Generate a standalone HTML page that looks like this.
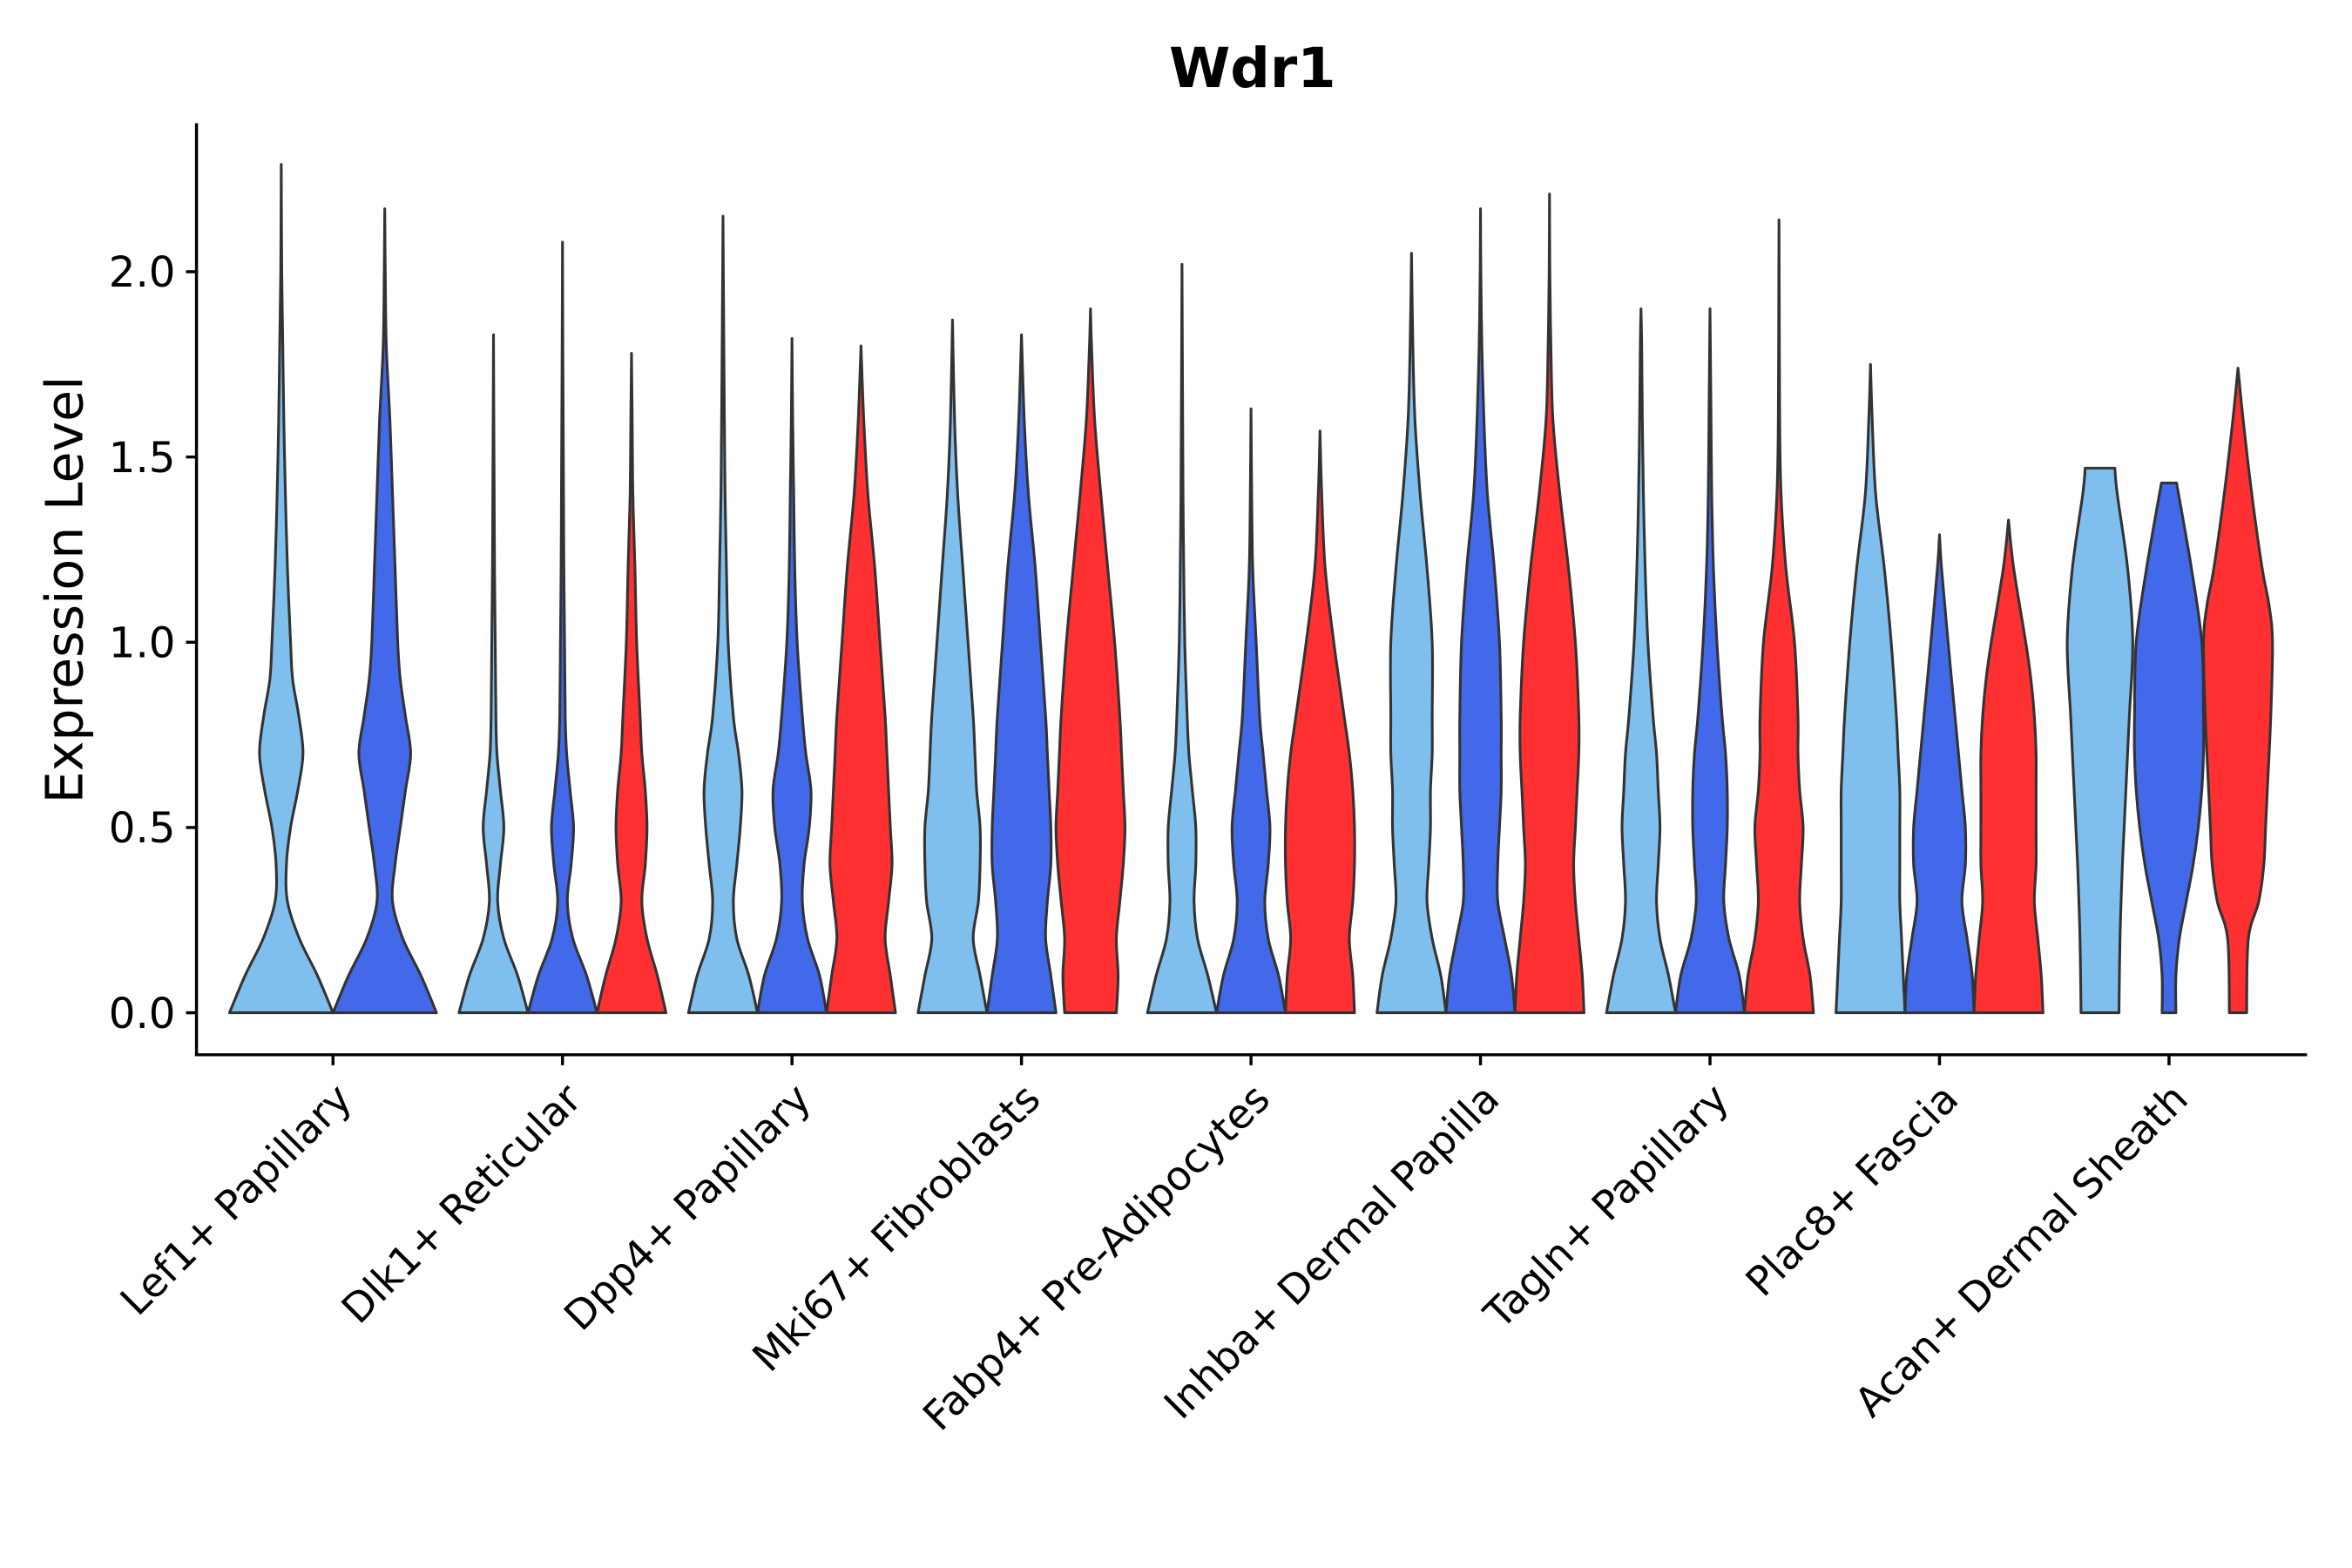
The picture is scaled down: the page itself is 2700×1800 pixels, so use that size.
<!DOCTYPE html>
<html><head><meta charset="utf-8"><style>
html,body{margin:0;padding:0;background:#fff;}
svg{display:block;}
text{font-family:"DejaVu Sans","Liberation Sans",sans-serif;fill:#000;}
</style></head><body>
<svg id="chart" width="2700" height="1800" viewBox="0 0 1568 1045" xmlns="http://www.w3.org/2000/svg">
<text x="835" y="58" text-anchor="middle" font-size="37" font-weight="bold">Wdr1</text>
<text transform="translate(55,393) rotate(-90)" text-anchor="middle" font-size="34">Expression Level</text>
<g id="marks"></g>
<g id="axes"></g>
</svg>
<script>
const categories = ["Lef1+ Papillary","Dlk1+ Reticular","Dpp4+ Papillary","Mki67+ Fibroblasts","Fabp4+ Pre-Adipocytes","Inhba+ Dermal Papilla","Tagln+ Papillary","Plac8+ Fascia","Acan+ Dermal Sheath"];
const yTicks = [0,0.5,1.0,1.5,2.0];
const yTickLabels = ["0.0","0.5","1.0","1.5","2.0"];
const seriesNames = ["light","blue","red"];
const seriesColors = {light:"#7fbfee",blue:"#4169e9",red:"#fe3031"};
// density profiles: [expression value, relative width]
const lef1Light = [[0,1],[0.1,0.7],[0.2,0.35],[0.3,0.12],[0.4,0.1],[0.5,0.18],[0.6,0.32],[0.7,0.42],[0.8,0.34],[0.9,0.22],[1.0,0.18],[1.2,0.12],[1.4,0.08],[1.6,0.05],[1.8,0.03],[2.0,0.01],[2.29,0]];
const lef1Blue = [[0,1],[0.1,0.7],[0.2,0.35],[0.3,0.15],[0.4,0.2],[0.5,0.3],[0.6,0.4],[0.7,0.5],[0.8,0.4],[0.9,0.3],[1.0,0.25],[1.2,0.2],[1.4,0.15],[1.6,0.1],[1.8,0.03],[2.0,0.01],[2.17,0]];
const dlk1Light = [[0,1],[0.1,0.7],[0.2,0.3],[0.3,0.12],[0.4,0.2],[0.5,0.3],[0.6,0.2],[0.7,0.1],[0.8,0.07],[1.0,0.05],[1.2,0.03],[1.4,0.02],[1.6,0.01],[1.83,0]];
const dlk1Blue = [[0,1],[0.1,0.7],[0.2,0.3],[0.3,0.14],[0.4,0.25],[0.5,0.32],[0.6,0.22],[0.7,0.12],[0.8,0.08],[1.0,0.06],[1.2,0.04],[1.4,0.03],[1.6,0.02],[1.8,0.01],[2.08,0]];
const dlk1Red = [[0,1],[0.1,0.75],[0.2,0.45],[0.3,0.3],[0.4,0.4],[0.5,0.45],[0.6,0.4],[0.7,0.3],[0.8,0.25],[1.0,0.15],[1.2,0.1],[1.4,0.04],[1.6,0.02],[1.78,0]];
const dpp4Light = [[0,1],[0.1,0.75],[0.2,0.4],[0.3,0.3],[0.4,0.4],[0.5,0.5],[0.6,0.55],[0.7,0.45],[0.8,0.3],[1.0,0.15],[1.2,0.1],[1.4,0.06],[1.6,0.04],[2.0,0.01],[2.15,0]];
const dpp4Blue = [[0,1],[0.1,0.8],[0.2,0.45],[0.3,0.3],[0.4,0.35],[0.5,0.5],[0.6,0.55],[0.7,0.4],[0.8,0.3],[1.0,0.15],[1.2,0.08],[1.4,0.05],[1.6,0.02],[1.82,0]];
const dpp4Red = [[0,1],[0.1,0.85],[0.2,0.7],[0.3,0.8],[0.4,0.9],[0.5,0.85],[0.6,0.8],[0.7,0.75],[0.8,0.7],[1.0,0.55],[1.2,0.4],[1.4,0.2],[1.6,0.08],[1.8,0]];
const mki67Light = [[0,1],[0.1,0.8],[0.2,0.6],[0.3,0.75],[0.4,0.8],[0.5,0.8],[0.6,0.7],[0.7,0.65],[0.8,0.6],[1.0,0.45],[1.2,0.3],[1.4,0.15],[1.6,0.06],[1.87,0]];
const mki67Blue = [[0,1],[0.1,0.85],[0.2,0.7],[0.3,0.75],[0.4,0.85],[0.5,0.85],[0.6,0.8],[0.7,0.75],[0.8,0.7],[1.0,0.55],[1.2,0.4],[1.4,0.2],[1.6,0.08],[1.83,0]];
const mki67Red = [[0,0.75],[0.1,0.8],[0.2,0.75],[0.3,0.85],[0.4,0.95],[0.5,1],[0.6,0.95],[0.7,0.9],[0.8,0.85],[1.0,0.7],[1.2,0.5],[1.4,0.3],[1.6,0.12],[1.8,0.03],[1.9,0]];
const fabp4Light = [[0,1],[0.1,0.75],[0.2,0.45],[0.3,0.35],[0.4,0.4],[0.5,0.4],[0.6,0.3],[0.7,0.2],[0.8,0.15],[1.0,0.08],[1.2,0.05],[1.4,0.03],[1.6,0.02],[1.8,0.01],[2.02,0]];
const fabp4Blue = [[0,1],[0.1,0.8],[0.2,0.5],[0.3,0.4],[0.4,0.5],[0.5,0.55],[0.6,0.45],[0.7,0.35],[0.8,0.25],[1.0,0.15],[1.2,0.05],[1.4,0.02],[1.63,0]];
const fabp4Red = [[0,1],[0.1,0.95],[0.2,0.85],[0.3,0.95],[0.4,1],[0.5,1],[0.6,0.95],[0.7,0.85],[0.8,0.7],[1.0,0.4],[1.2,0.15],[1.4,0.05],[1.57,0]];
const inhbaLight = [[0,1],[0.1,0.85],[0.2,0.6],[0.3,0.45],[0.4,0.5],[0.5,0.55],[0.6,0.55],[0.7,0.6],[0.8,0.6],[1.0,0.6],[1.2,0.45],[1.4,0.25],[1.6,0.1],[1.8,0.04],[2.05,0]];
const inhbaBlue = [[0,1],[0.1,0.9],[0.2,0.7],[0.3,0.5],[0.4,0.5],[0.5,0.55],[0.6,0.6],[0.7,0.6],[0.8,0.6],[1.0,0.55],[1.2,0.4],[1.4,0.2],[1.6,0.1],[1.8,0.04],[2.0,0.01],[2.17,0]];
const inhbaRed = [[0,1],[0.1,0.95],[0.2,0.85],[0.3,0.75],[0.4,0.7],[0.5,0.75],[0.6,0.8],[0.7,0.85],[0.8,0.85],[1.0,0.75],[1.2,0.55],[1.4,0.3],[1.6,0.1],[1.8,0.04],[2.0,0.01],[2.21,0]];
const taglnLight = [[0,1],[0.1,0.8],[0.2,0.55],[0.3,0.45],[0.4,0.5],[0.5,0.55],[0.6,0.5],[0.7,0.45],[0.8,0.35],[1.0,0.2],[1.2,0.12],[1.4,0.07],[1.6,0.04],[1.8,0.02],[1.9,0]];
const taglnBlue = [[0,1],[0.1,0.85],[0.2,0.55],[0.3,0.4],[0.4,0.45],[0.5,0.5],[0.6,0.5],[0.7,0.45],[0.8,0.35],[1.0,0.2],[1.2,0.1],[1.4,0.05],[1.6,0.03],[1.8,0.01],[1.9,0]];
const taglnRed = [[0,1],[0.1,0.9],[0.2,0.7],[0.3,0.6],[0.4,0.65],[0.5,0.7],[0.6,0.6],[0.7,0.55],[0.8,0.55],[1.0,0.45],[1.2,0.2],[1.4,0.06],[1.6,0.02],[2.0,0.005],[2.14,0]];
const plac8Light = [[0,1],[0.1,0.95],[0.2,0.9],[0.3,0.85],[0.4,0.85],[0.5,0.85],[0.6,0.85],[0.7,0.8],[0.8,0.75],[1.0,0.6],[1.2,0.4],[1.4,0.15],[1.6,0.05],[1.75,0]];
const plac8Blue = [[0,1],[0.1,0.95],[0.2,0.8],[0.3,0.65],[0.4,0.75],[0.5,0.75],[0.6,0.65],[0.7,0.55],[0.8,0.45],[1.0,0.25],[1.2,0.06],[1.29,0]];
const plac8Red = [[0,1],[0.1,0.95],[0.2,0.85],[0.3,0.75],[0.4,0.8],[0.5,0.8],[0.6,0.8],[0.7,0.8],[0.8,0.75],[0.9,0.65],[1.0,0.5],[1.2,0.15],[1.33,0]];
const acanLight = [[0,0.55],[0.2,0.58],[0.4,0.65],[0.6,0.75],[0.8,0.85],[1.0,0.95],[1.2,0.8],[1.4,0.5],[1.47,0.43]];
const acanBlue = [[0,0.2],[0.1,0.2],[0.2,0.3],[0.3,0.5],[0.4,0.7],[0.5,0.85],[0.6,0.95],[0.7,1],[0.8,1],[1.0,0.95],[1.2,0.65],[1.43,0.22]];
const acanRed = [[0,0.25],[0.2,0.3],[0.3,0.6],[0.4,0.75],[0.5,0.8],[0.6,0.85],[0.8,0.95],[1.0,1],[1.1,0.9],[1.2,0.7],[1.4,0.4],[1.6,0.15],[1.74,0]];
const groups = [
  [lef1Light, lef1Blue],
  [dlk1Light, dlk1Blue, dlk1Red],
  [dpp4Light, dpp4Blue, dpp4Red],
  [mki67Light, mki67Blue, mki67Red],
  [fabp4Light, fabp4Blue, fabp4Red],
  [inhbaLight, inhbaBlue, inhbaRed],
  [taglnLight, taglnBlue, taglnRed],
  [plac8Light, plac8Blue, plac8Red],
  [acanLight, acanBlue, acanRed]
];

const NS = "http://www.w3.org/2000/svg";
const plot = {x0:131, x1:1538, yTop:82, yBottom:703};
const bandStart = 146, bandStep = 153;
function xScale(i){ return bandStart + bandStep*i + bandStep/2 - 0.5; }
function yScale(v){ return 675 - v*247; }
const groupWidth = 138;

function catmull(pts){
  let d = "";
  for(let i=0;i<pts.length-1;i++){
    const p0=pts[Math.max(0,i-1)], p1=pts[i], p2=pts[i+1], p3=pts[Math.min(pts.length-1,i+2)];
    const c1=[p1[0]+(p2[0]-p0[0])/6, p1[1]+(p2[1]-p0[1])/6];
    const c2=[p2[0]-(p3[0]-p1[0])/6, p2[1]-(p3[1]-p1[1])/6];
    d += ` C${c1[0].toFixed(2)},${c1[1].toFixed(2)} ${c2[0].toFixed(2)},${c2[1].toFixed(2)} ${p2[0].toFixed(2)},${p2[1].toFixed(2)}`;
  }
  return d;
}

const marks = document.getElementById("marks");
groups.forEach((g, gi) => {
  const n = g.length;
  const dodge = groupWidth / n;
  const hw = dodge/2;
  const colorKeys = n===2 ? ["light","blue"] : seriesNames;
  g.forEach((dens, vi) => {
    const cx = xScale(gi) - groupWidth/2 + dodge*(vi+0.5);
    const right = dens.map(p => [cx + p[1]*hw, yScale(p[0])]);
    const left = dens.slice().reverse().map(p => [cx - p[1]*hw, yScale(p[0])]);
    let d = `M${cx},${yScale(0)} L${right[0][0]},${right[0][1]}` + catmull(right);
    d += ` L${left[0][0]},${left[0][1]}` + catmull(left) + " Z";
    const path = document.createElementNS(NS, "path");
    path.setAttribute("d", d);
    path.setAttribute("fill", seriesColors[colorKeys[vi]]);
    path.setAttribute("stroke", "#333");
    path.setAttribute("stroke-width", "1.8");
    path.setAttribute("stroke-linejoin", "round");
    
    
    marks.appendChild(path);
  });
});

const axes = document.getElementById("axes");
function line(x1,y1,x2,y2,name){
  const l = document.createElementNS(NS,"line");
  l.setAttribute("x1",x1);l.setAttribute("y1",y1);l.setAttribute("x2",x2);l.setAttribute("y2",y2);
  l.setAttribute("stroke","#000");l.setAttribute("stroke-width","2");
  
  
  axes.appendChild(l);
}
line(plot.x0, plot.yTop, plot.x0, plot.yBottom+1, "y-axis-line");
line(plot.x0-1, plot.yBottom, plot.x1, plot.yBottom, "x-axis-line");
yTicks.forEach((t, i) => {
  const y = yScale(t);
  line(plot.x0-7, y, plot.x0, y, "y-tick");
  const tx = document.createElementNS(NS,"text");
  tx.setAttribute("x", plot.x0-14); tx.setAttribute("y", y+10);
  tx.setAttribute("text-anchor","end"); tx.setAttribute("font-size","28");
  tx.setAttribute("fill","#222");
  tx.textContent = yTickLabels[i];
  
  
  axes.appendChild(tx);
});
categories.forEach((c, i) => {
  const x = xScale(i);
  line(x, plot.yBottom, x, plot.yBottom+7, "x-tick");
  const tx = document.createElementNS(NS,"text");
  tx.setAttribute("transform", `translate(${x+14},${plot.yBottom+31}) rotate(-45)`);
  tx.setAttribute("text-anchor","end"); tx.setAttribute("font-size","27");
  tx.setAttribute("fill","#222");
  tx.textContent = c;
  
  
  axes.appendChild(tx);
});
</script>
</body></html>
